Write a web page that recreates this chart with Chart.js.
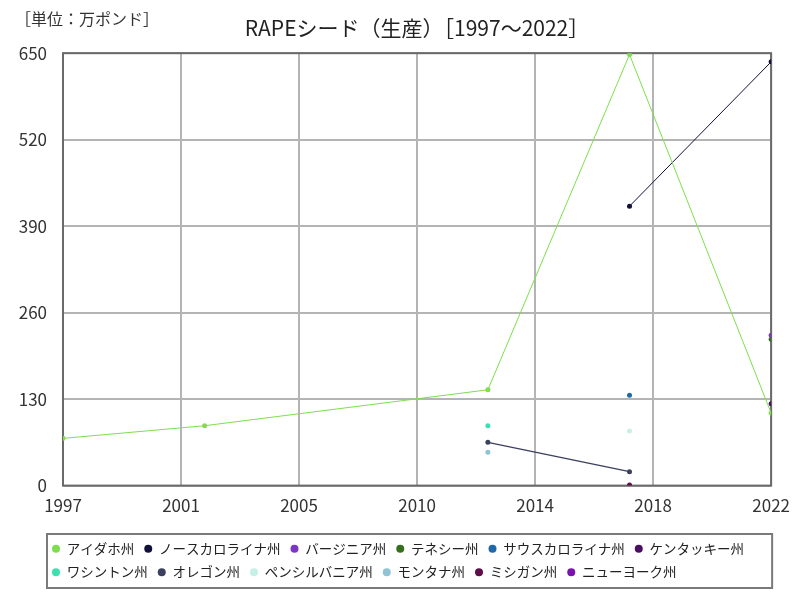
<!DOCTYPE html>
<html lang="ja">
<head>
<meta charset="utf-8">
<title>RAPEシード（生産）</title>
<script src="https://cdn.jsdelivr.net/npm/chart.js@4"></script>
<style>
  html, body { margin: 0; padding: 0; background: #fff; }
  #wrap { position: relative; width: 800px; height: 600px; }
  #unit { position: absolute; left: 15px; top: 6px; font: 16px 'Noto Sans CJK JP', sans-serif; color: #333; }
</style>
</head>
<body>
<div id="wrap">
  <canvas id="rapeChart" width="800" height="600"></canvas>
  <div id="unit">［単位：万ポンド］</div>
</div>
<script>
// census years and y ticks
const years = [1997, 2002, 2007, 2012, 2017, 2022];
const xTickLabels = ['1997', '2001', '2005', '2010', '2014', '2018', '2022'];
const yMax = 650;
const yStep = 130;

// production by state (万ポンド), null = no data
const idaho = [71, 90, null, 144, 648, 109];
const northCarolina = [null, null, null, null, 420, 637];
const virginia = [null, null, null, null, null, 226];
const tennessee = [null, null, null, null, null, 220];
const southCarolina = [null, null, null, null, 136, null];
const kentucky = [null, null, null, null, null, 123];
const washington = [null, null, null, 90, null, null];
const oregon = [null, null, null, 65, 21, null];
const pennsylvania = [null, null, null, null, 82, null];
const montana = [null, null, null, 50, null, null];
const michigan = [null, null, null, null, 1, null];
const newYork = [null, null, null, null, null, null];

function series(label, values, color) {
    return {
        label: label,
        data: values.map((v, i) => ({ x: years[i], y: v })),
        borderColor: color,
        backgroundColor: color,
        borderWidth: 1,
        pointRadius: 2.5,
        pointHoverRadius: 3,
        pointBorderWidth: 0,
        spanGaps: true,
        tension: 0
    };
}

const datasets = [
    series('アイダホ州', idaho, '#7ddf4f'),
    series('ノースカロライナ州', northCarolina, '#10103a'),
    series('バージニア州', virginia, '#7b36c6'),
    series('テネシー州', tennessee, '#36701e'),
    series('サウスカロライナ州', southCarolina, '#1f69a8'),
    series('ケンタッキー州', kentucky, '#48105e'),
    series('ワシントン州', washington, '#3ee0b2'),
    series('オレゴン州', oregon, '#3a405e'),
    series('ペンシルバニア州', pennsylvania, '#c6f0e6'),
    series('モンタナ州', montana, '#90c4d4'),
    series('ミシガン州', michigan, '#5c0f48'),
    series('ニューヨーク州', newYork, '#7a12b0')
];
datasets[7].borderWidth = 1.5;

const jp = "'Noto Sans CJK JP', sans-serif";

// frame round the plot area
const framePlugin = {
    id: 'frame',
    beforeDatasetsDraw(chart) {
        const a = chart.chartArea;
        const ctx = chart.ctx;
        ctx.save();
        ctx.strokeStyle = '#6a6a6a';
        ctx.lineWidth = 2;
        ctx.strokeRect(a.left, a.top, a.right - a.left, a.bottom - a.top);
        ctx.restore();
    }
};

// legend: start a bit left of the plot and draw a box round it
const legendBoxPlugin = {
    id: 'legendBox',
    beforeDraw(chart) {
        chart.legend.left = chart.chartArea.left - 21;
    },
    afterDraw(chart) {
        const lg = chart.legend;
        const ctx = chart.ctx;
        const left = chart.chartArea.left - 16;
        const right = chart.chartArea.right + 1;
        const top = lg.top + 2;
        const bottom = lg.bottom - 1;
        ctx.save();
        ctx.strokeStyle = '#7a7a7a';
        ctx.lineWidth = 2;
        ctx.strokeRect(left, top, right - left, bottom - top);
        ctx.restore();
    }
};

const ctx = document.getElementById('rapeChart').getContext('2d');
const rapeChart = new Chart(ctx, {
    type: 'line',
    data: { datasets: datasets },
    options: {
        responsive: false,
        animation: false,
        devicePixelRatio: 1,
        layout: { padding: { top: 15, right: 28, bottom: 11, left: 0 } },
        plugins: {
            title: {
                display: true,
                fullSize: false,
                text: 'RAPEシード（生産）［1997〜2022］',
                color: '#222',
                font: { family: jp, size: 21, weight: 'normal' },
                padding: { top: 0, bottom: 13 }
            },
            legend: {
                position: 'bottom',
                align: 'start',
                labels: {
                    usePointStyle: true,
                    pointStyle: 'circle',
                    boxWidth: 8,
                    boxHeight: 5.66,
                    padding: 10,
                    color: '#222',
                    font: { family: jp, size: 13.5 }
                }
            },
            tooltip: { enabled: false }
        },
        scales: {
            x: {
                type: 'linear',
                min: years[0],
                max: years[years.length - 1],
                afterFit(scale) { scale.height += 6; },
                grid: { color: '#b4b4b4', lineWidth: 2, drawTicks: false },
                border: { display: false },
                ticks: {
                    count: xTickLabels.length,
                    padding: 10,
                    color: '#333',
                    font: { family: jp, size: 17 },
                    maxRotation: 0,
                    callback: (value, index) => xTickLabels[index]
                }
            },
            y: {
                min: 0,
                max: yMax,
                afterFit(scale) { scale.width = 63; },
                grid: { color: '#b4b4b4', lineWidth: 2, drawTicks: false },
                border: { display: false },
                ticks: {
                    stepSize: yStep,
                    padding: 16,
                    color: '#333',
                    font: { family: jp, size: 17 }
                }
            }
        }
    },
    plugins: [framePlugin, legendBoxPlugin]
});
</script>
</body>
</html>
